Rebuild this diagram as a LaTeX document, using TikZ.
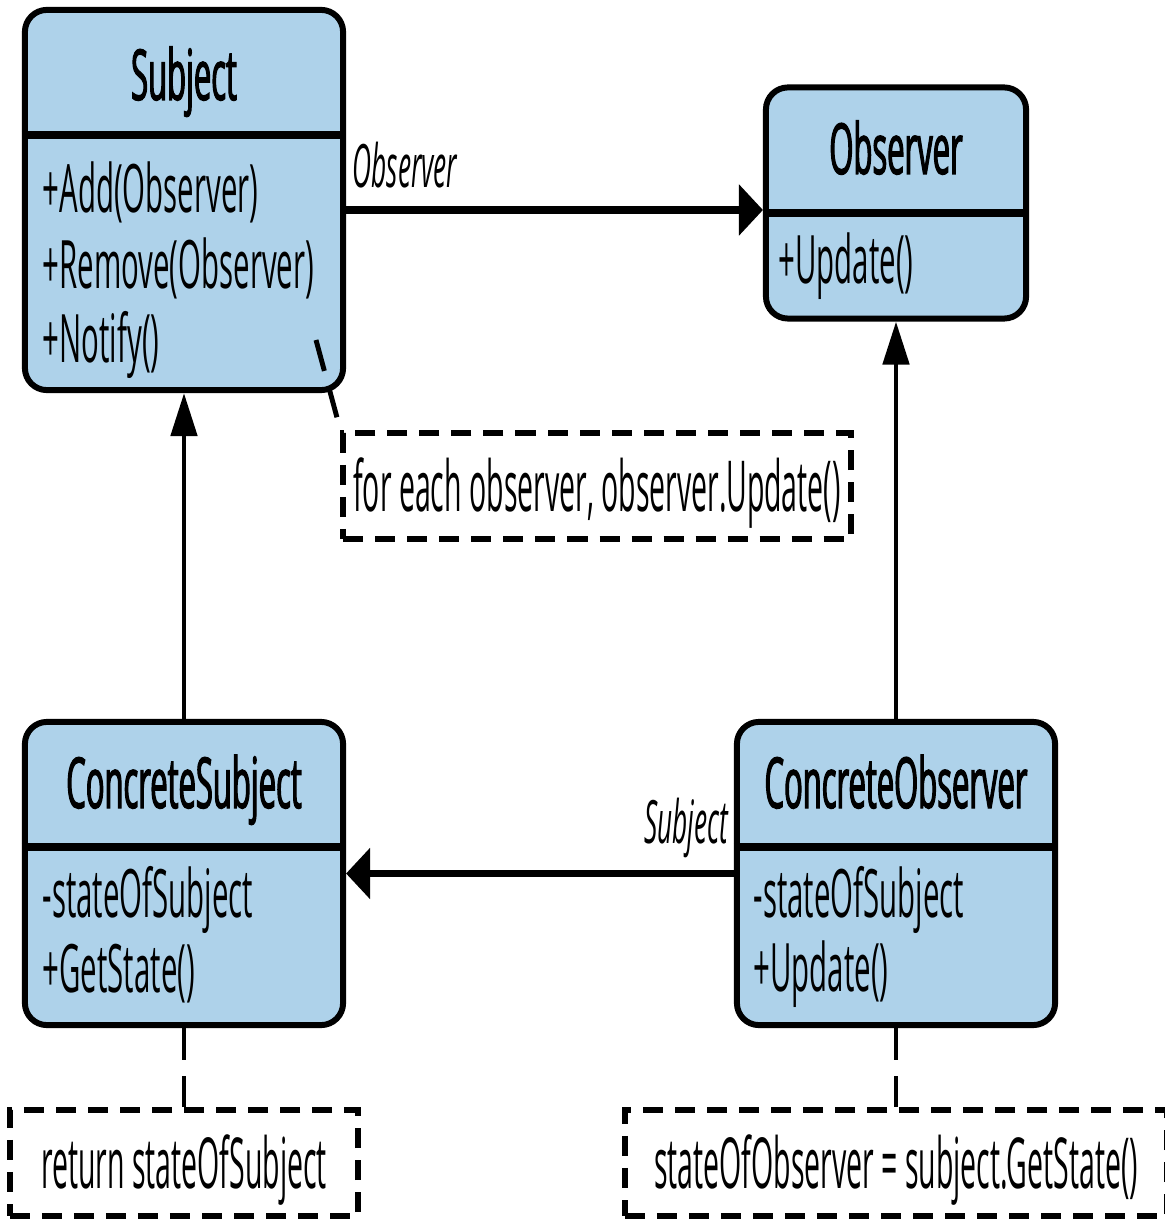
\documentclass[tikz,border=0pt]{standalone}
\usepackage{fontspec}
\setmainfont{Open Sans}[FakeStretch=0.44]
\newfontfamily\headfont{Open Sans}[FakeStretch=0.44,FakeBold=1.6]
\newfontfamily\notefont{Open Sans}[FakeStretch=0.405]
\usepackage{xcolor}
\usetikzlibrary{arrows.meta}
\definecolor{clsblue}{RGB}{174,210,234}

\begin{document}
\begin{tikzpicture}[x=0.01cm,y=-0.01cm,
  cls/.style={draw,fill=clsblue,line width=1.7pt,rounded corners=0.22cm,inner sep=0pt},
  head/.style={anchor=base,inner sep=0pt,font=\headfont\fontsize{20}{24}\selectfont},
  memb/.style={anchor=base west,inner sep=0pt,font=\fontsize{19}{23}\selectfont},
  divide/.style={line width=2pt},
  note/.style={draw,line width=1.7pt,dash pattern=on 0.2cm off 0.12cm,inner sep=0pt,minimum height=1.06cm,
    text height=0.5cm,text depth=0cm,font=\notefont\fontsize{20}{24}\selectfont},
  notelink/.style={line width=1.4pt,dash pattern=on 0.32cm off 0.16cm},
  role/.style={inner sep=0pt,font=\fontsize{17}{20}\selectfont\itshape},
  hassoc/.style={line width=2.2pt,-{Triangle[length=0.24cm,width=0.5cm]}},
  vassoc/.style={line width=1.4pt,-{Triangle[length=0.43cm,width=0.26cm]}}]
\useasboundingbox (0,0) rectangle (1164,1222);

% class boxes
\node[cls,minimum width=3.18cm,minimum height=3.80cm] (subject) at (184,200) {};
\node[head] (subjectname) at (184,100) {Subject};
\draw[divide] (subject.west |- 0,135) -- (subject.east |- 0,135);
\node[memb] (subjectadd) at (42,213) {+Add(Observer)};
\node[memb] (subjectremove) at (42,289) {+Remove(Observer)};
\node[memb] (subjectnotify) at (42,363) {+Notify()};

\node[cls,minimum width=2.60cm,minimum height=2.31cm] (observer) at (896,203) {};
\node[head] (observername) at (896,174) {Observer};
\draw[divide] (observer.west |- 0,213) -- (observer.east |- 0,213);
\node[memb] (observerupdate) at (778,284) {+Update()};

\node[cls,minimum width=3.18cm,minimum height=3.03cm] (csubject) at (184,873.5) {};
\node[head] (csubjectname) at (184,808) {ConcreteSubject};
\draw[divide] (csubject.west |- 0,847) -- (csubject.east |- 0,847);
\node[memb] (csubjectstate) at (42,917) {-stateOfSubject};
\node[memb] (csubjectget) at (42,992) {+GetState()};

\node[cls,minimum width=3.18cm,minimum height=3.03cm] (cobserver) at (896,873.5) {};
\node[head] (cobservername) at (896,808) {ConcreteObserver};
\draw[divide] (cobserver.west |- 0,847) -- (cobserver.east |- 0,847);
\node[memb] (cobserverstate) at (753,917) {-stateOfSubject};
\node[memb] (cobserverupdate) at (753,991) {+Update()};

% notes
\node[note,minimum width=5.07cm] (noteone) at (597,486) {for each observer, observer.Update()};
\node[note,minimum width=3.48cm] (notetwo) at (184,1163) {return stateOfSubject};
\node[note,minimum width=5.42cm] (notethree) at (896,1163) {stateOfObserver = subject.GetState()};

\coordinate (notifypt) at (316,340);
\draw[notelink] (notifypt) -- (noteone.north west);
\draw[notelink] (csubject.south) -- (notetwo.north);
\draw[notelink] (cobserver.south) -- (notethree.north);

% associations
\coordinate (obsline) at (555,210);
\draw[hassoc] (subject.east |- obsline) -- (observer.west |- obsline);
\node[role,anchor=base west] (obsrole) at (352,188) {Observer};
\draw[hassoc] (cobserver.west) -- (csubject.east);
\node[role,anchor=base east] (subjrole) at (729,843) {Subject};

% inheritance
\draw[vassoc] (csubject.north) -- (subject.south);
\draw[vassoc] (cobserver.north) -- (observer.south -| cobserver.north);
\end{tikzpicture}
\end{document}
